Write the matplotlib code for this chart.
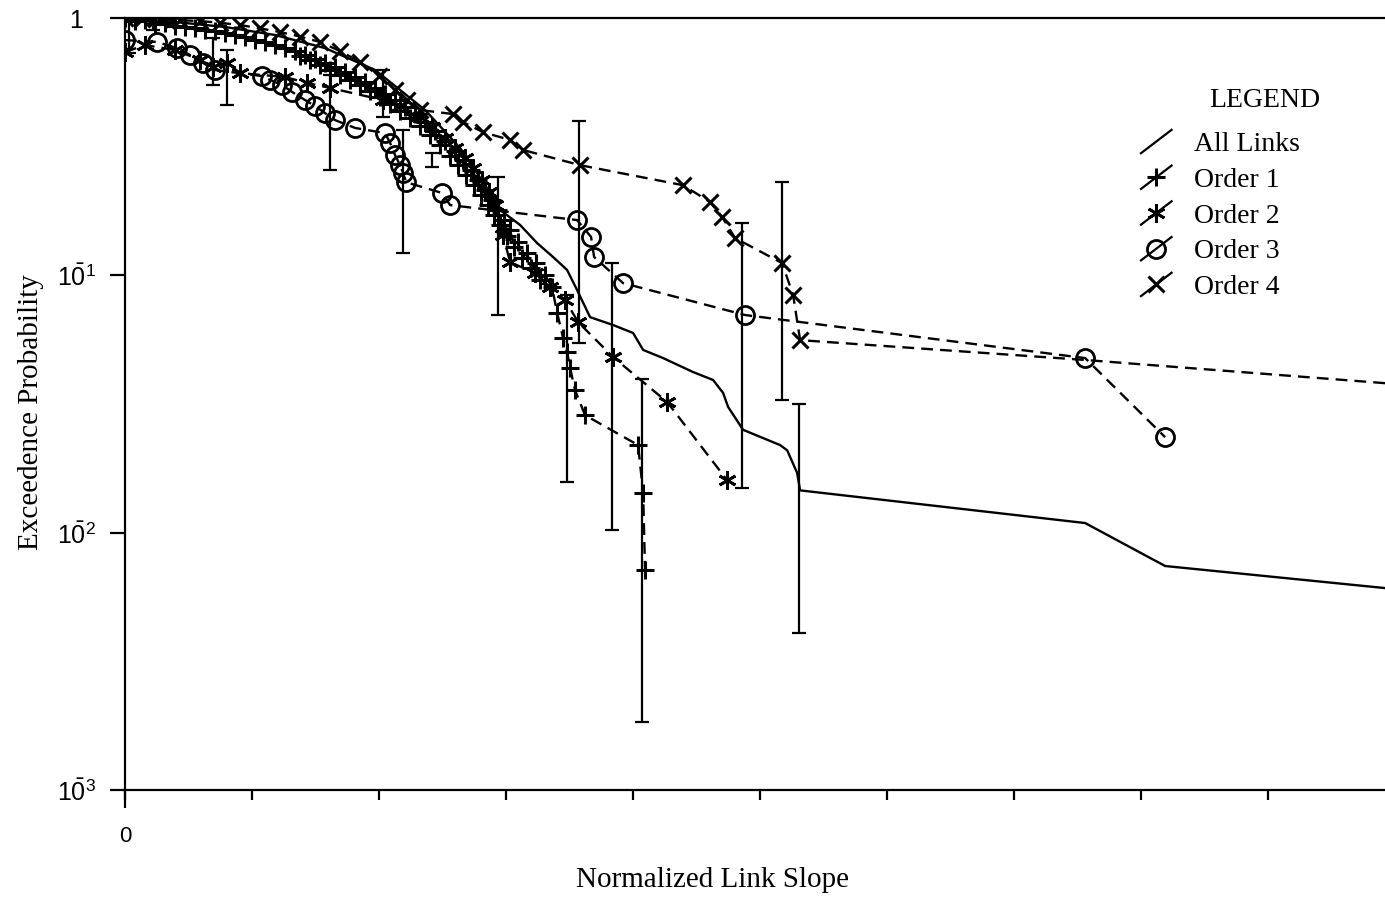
import matplotlib
matplotlib.use('Agg')
import matplotlib.pyplot as plt
import numpy as np
from matplotlib.lines import Line2D
from matplotlib.legend_handler import HandlerBase
from matplotlib.ticker import NullLocator

plt.rcParams['font.family'] = ['Liberation Serif', 'DejaVu Serif']
plt.rcParams['mathtext.fontset'] = 'custom'

# ---------------- data (normalized link slope vs exceedence probability) ----------------
all_x = [0, 0.394, 0.787, 1.181, 1.575, 1.969, 2.362, 2.638, 2.835, 2.953, 3.110, 3.244,
         3.370, 3.480, 3.559, 3.661, 3.843, 4.0, 4.079, 4.236, 4.472, 4.630, 4.709, 4.748,
         4.866, 5.157, 5.213, 5.291, 5.315, 7.559, 8.189, 9.921]
all_y = [1.0, 0.965, 0.923, 0.859, 0.764, 0.628, 0.439, 0.3125, 0.224, 0.1795, 0.157, 0.1335,
         0.1178, 0.105, 0.0877, 0.0688, 0.0641, 0.0597, 0.0513, 0.0477, 0.0421, 0.0392, 0.0349, 0.0308,
         0.0251, 0.0219, 0.0209, 0.0171, 0.0146, 0.0109, 0.00742, 0.00609]

o1_x = [0, 0.079, 0.157, 0.236, 0.315, 0.394, 0.472, 0.551, 0.630, 0.709, 0.787, 0.866,
        0.945, 1.024, 1.102, 1.181, 1.260, 1.339, 1.378, 1.417, 1.457, 1.496, 1.535, 1.575,
        1.614, 1.654, 1.693, 1.732, 1.772, 1.811, 1.850, 1.890, 1.929, 1.969, 2.008, 2.047,
        2.087, 2.126, 2.165, 2.205, 2.244, 2.283, 2.323, 2.362, 2.402, 2.441, 2.480, 2.520,
        2.559, 2.598, 2.622, 2.661, 2.685, 2.724, 2.748, 2.780, 2.803, 2.835, 2.858, 2.890,
        2.906, 2.937, 2.953, 2.984, 3.008, 3.031, 3.063, 3.094, 3.126, 3.165, 3.197, 3.236,
        3.268, 3.307, 3.362, 3.402, 3.449, 3.480, 3.504, 3.543, 3.622, 4.039, 4.079, 4.094]
o1_y = [1.0, 0.973, 0.982, 0.948, 0.956, 0.931, 0.923, 0.914, 0.898, 0.890, 0.874, 0.859,
        0.844, 0.821, 0.807, 0.785, 0.764, 0.744, 0.712, 0.718, 0.687, 0.693, 0.657, 0.669,
        0.628, 0.645, 0.600, 0.617, 0.574, 0.590, 0.549, 0.564, 0.520, 0.535, 0.493, 0.507,
        0.463, 0.480, 0.435, 0.451, 0.4087, 0.4235, 0.380, 0.394, 0.351, 0.364, 0.321, 0.333,
        0.291, 0.304, 0.268, 0.281, 0.245, 0.257, 0.224, 0.235, 0.205, 0.215, 0.1875, 0.196,
        0.1715, 0.1795, 0.157, 0.164, 0.1421, 0.150, 0.1289, 0.1347, 0.1167, 0.122, 0.1067, 0.1116,
        0.0959, 0.1003, 0.090, 0.0714, 0.0571, 0.0503, 0.0436, 0.0358, 0.0286, 0.0219, 0.0143, 0.00716]

o2_x = [0, 0.157, 0.394, 0.591, 0.693, 0.803, 0.906, 1.260, 1.433, 1.614, 2.031, 2.165,
        2.323, 2.417, 2.520, 2.598, 2.677, 2.740, 2.811, 2.866, 2.913, 2.976, 3.031, 3.228,
        3.346, 3.465, 3.567, 3.843, 4.268, 4.740]
o2_y = [0.738, 0.785, 0.751, 0.687, 0.645, 0.669, 0.611, 0.590, 0.559, 0.535, 0.480, 0.455,
        0.412, 0.377, 0.342, 0.3125, 0.2856, 0.261, 0.235, 0.211, 0.1875, 0.1434, 0.1126, 0.102,
        0.090, 0.0802, 0.0658, 0.0481, 0.0322, 0.0160]

o3_x = [0, 0.252, 0.409, 0.512, 0.614, 0.709, 1.079, 1.142, 1.236, 1.315, 1.417, 1.496,
        1.575, 1.654, 1.811, 2.047, 2.087, 2.126, 2.165, 2.189, 2.213, 2.496, 2.559, 3.559,
        3.669, 3.693, 3.921, 4.882, 7.559, 8.189]
o3_y = [0.821, 0.807, 0.764, 0.718, 0.669, 0.628, 0.595, 0.574, 0.549, 0.516, 0.480, 0.455,
        0.427, 0.401, 0.374, 0.357, 0.327, 0.293, 0.268, 0.250, 0.230, 0.209, 0.1875, 0.164,
        0.141, 0.1178, 0.0933, 0.0701, 0.0477, 0.0235]

o4_x = [0, 0.13, 0.276, 0.43, 0.591, 0.75, 0.906, 1.06, 1.220, 1.38, 1.535, 1.69, 1.850,
        2.0, 2.126, 2.22, 2.323, 2.583, 2.661, 2.819, 3.031, 3.134, 3.583, 4.394, 4.606,
        4.701, 4.803, 5.173, 5.260, 5.315, 7.559, 9.921]
o4_y = [1.0, 0.99, 0.991, 0.98, 0.9735, 0.958, 0.939, 0.912, 0.882, 0.847, 0.807, 0.745, 0.675,
        0.595, 0.525, 0.48, 0.439, 0.4235, 0.394, 0.360, 0.336, 0.307, 0.268, 0.224, 0.1927,
        0.1685, 0.1396, 0.1116, 0.0838, 0.0560, 0.0469, 0.0381]

# error bars: position, lower and upper limits
err_x  = [0.03, 0.22, 0.693, 0.803, 1.614, 2.031, 2.189, 2.417, 2.937, 3.48, 3.575,
          3.835, 4.071, 4.858, 5.173, 5.307]
err_lo = [0.731, 0.898, 0.549, 0.459, 0.257, 0.412, 0.122, 0.2636, 0.0701, 0.0157, 0.0546,
          0.0102, 0.00184, 0.0149, 0.0328, 0.00407]
err_hi = [0.99, 1.0, 0.836, 0.751, 0.600, 0.628, 0.367, 0.2987, 0.241, 0.0838, 0.398,
          0.1116, 0.0395, 0.1597, 0.230, 0.0316]

ytick_vals = [1e-3, 1e-2, 1e-1, 1]
ytick_labels = [r'$\mathregular{1\bar{0}^{3}}$', r'$\mathregular{1\bar{0}^{2}}$',
                r'$\mathregular{1\bar{0}^{1}}$', '1']
legend_labels = ['All Links', 'Order 1', 'Order 2', 'Order 3', 'Order 4']

# ---------------- figure ----------------
fig = plt.figure(figsize=(13.85, 8.97), dpi=100)
ax = fig.add_axes([0.0903, 0.1193, 0.9097, 0.8606])
ax.set_yscale('log')
ax.set_ylim(1e-3, 1)
ax.set_xlim(0, 9.92)

lw = 1.7
dash = (0, (5, 3))
h_all, = ax.plot(all_x, all_y, color='k', lw=lw, zorder=3)
h1, = ax.plot(o1_x, o1_y, color='k', lw=lw, ls=dash, marker='+', ms=13, mew=2.2, zorder=4)
h2, = ax.plot(o2_x, o2_y, color='k', lw=lw, ls=dash, marker=(6, 2, 0), ms=13, mew=2.0, zorder=4)
h3, = ax.plot(o3_x, o3_y, color='k', lw=lw, ls=dash, marker='o', ms=13, mew=2.0,
              mfc='none', zorder=4)
h4, = ax.plot(o4_x, o4_y, color='k', lw=lw, ls=dash, marker='x', ms=11, mew=2.2,
              markevery=list(range(len(o4_x) - 2)), zorder=4)

lo = np.array(err_lo)
hi = np.array(err_hi)
ax.errorbar(err_x, lo, yerr=[np.zeros_like(lo), hi - lo], fmt='none', ecolor='k',
            elinewidth=1.6, capsize=5, capthick=1.6, zorder=2)

# axes styling
for s in ['left', 'bottom', 'top']:
    ax.spines[s].set_linewidth(1.6)
ax.spines['right'].set_visible(False)

ax.set_yticks(ytick_vals)
ax.set_yticklabels(ytick_labels, ha='center', family='Liberation Sans', fontsize=18)
ax.yaxis.set_minor_locator(NullLocator())
ax.tick_params(axis='y', which='major', length=11, width=1.6, direction='out', pad=24)

ax.set_xticks(list(range(10)))
ax.set_xticklabels(['0'] + [''] * 9, family='Liberation Sans', fontsize=16)
ax.xaxis.remove_overlapping_locs = False
ax.set_xticks([0], minor=True)
ax.tick_params(axis='x', which='major', length=7, width=1.6, direction='out', pad=19)
ax.tick_params(axis='x', which='minor', length=13, width=1.6, direction='out')

ax.set_xlabel('Normalized Link Slope', fontsize=21)
ax.xaxis.set_label_coords(0.466, -0.1)
ax.set_ylabel('Exceedence Probability', fontsize=21)
ax.yaxis.set_label_coords(-0.064, 0.49)


class SlantHandler(HandlerBase):
    def create_artists(self, legend, orig_handle, xdescent, ydescent, width, height,
                       fontsize, trans):
        x0, y0 = -xdescent, -ydescent
        arts = [Line2D([x0, x0 + width], [y0 - 0.1 * height, y0 + 1.1 * height],
                       color='k', lw=1.6, transform=trans)]
        mk = orig_handle.get_marker()
        if mk not in (None, 'None', '', 'none'):
            arts.append(Line2D([x0 + width / 2], [y0 + height / 2], ls='none', marker=mk,
                               ms=orig_handle.get_markersize(),
                               mew=orig_handle.get_markeredgewidth(), mfc='none', mec='k',
                               transform=trans))
        return arts


fig.text(0.9134, 0.8885, 'LEGEND', ha='center', va='center', fontsize=20)
leg = ax.legend(handles=[h_all, h1, h2, h3, h4], labels=legend_labels,
                handler_map={Line2D: SlantHandler()}, frameon=False,
                loc='upper left', bbox_to_anchor=(0.7865, 0.885),
                prop=dict(family='Liberation Serif', size=20),
                handlelength=1.1, handletextpad=0.8, labelspacing=0.37)

fig.savefig('out.png', dpi=100)
